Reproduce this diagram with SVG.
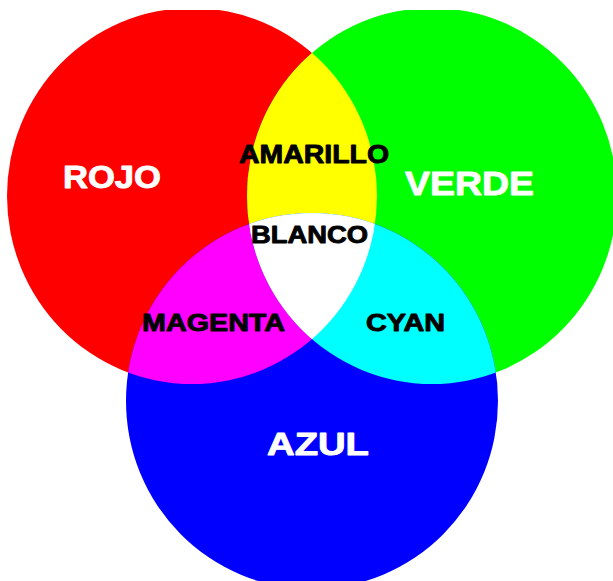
<svg xmlns="http://www.w3.org/2000/svg" xmlns:xlink="http://www.w3.org/1999/xlink" width="613" height="581" viewBox="0 0 613 581">
  <style>
    .lbl { font-family: "Liberation Sans", Arial, sans-serif; font-weight: bold; stroke-width: 0.9; stroke-linejoin: round; }
    .w { fill: #ffffff; stroke: #ffffff; }
    .k { fill: #000000; stroke: #000000; }
  </style>
  <defs>
    <ellipse id="eR" cx="192" cy="196" rx="185" ry="188"/>
    <ellipse id="eG" cx="432" cy="196" rx="185" ry="188"/>
    <ellipse id="eB" cx="312" cy="401" rx="186" ry="188"/>
    <clipPath id="cR"><use href="#eR" xlink:href="#eR"/></clipPath>
    <clipPath id="cG"><use href="#eG" xlink:href="#eG"/></clipPath>
    <clipPath id="frame"><rect x="0" y="10" width="613" height="571"/></clipPath>
  </defs>
  <rect x="0" y="0" width="613" height="581" fill="#ffffff"/>
  <g clip-path="url(#frame)">
    <g id="rojo"><use href="#eR" xlink:href="#eR" fill="#ff0000"/></g>
    <g id="verde"><use href="#eG" xlink:href="#eG" fill="#00ff00"/></g>
    <g id="azul"><use href="#eB" xlink:href="#eB" fill="#0000ff"/></g>
    <g id="amarillo" clip-path="url(#cR)"><use href="#eG" xlink:href="#eG" fill="#ffff00"/></g>
    <g id="magenta" clip-path="url(#cR)"><use href="#eB" xlink:href="#eB" fill="#ff00ff"/></g>
    <g id="cyan" clip-path="url(#cG)"><use href="#eB" xlink:href="#eB" fill="#00ffff"/></g>
    <g id="blanco" clip-path="url(#cR)"><g clip-path="url(#cG)"><use href="#eB" xlink:href="#eB" fill="#ffffff"/></g></g>
  </g>
  <g id="labels" class="lbl">
    <text class="w" x="63" y="188" font-size="31" textLength="98" lengthAdjust="spacingAndGlyphs">ROJO</text>
    <text class="w" x="405" y="195" font-size="34" textLength="129" lengthAdjust="spacingAndGlyphs">VERDE</text>
    <text class="w" x="267" y="455" font-size="31" textLength="102" lengthAdjust="spacingAndGlyphs">AZUL</text>
    <text class="k" x="239" y="163" font-size="25.5" textLength="150" lengthAdjust="spacingAndGlyphs">AMARILLO</text>
    <text class="k" x="251" y="243" font-size="24" textLength="117" lengthAdjust="spacingAndGlyphs">BLANCO</text>
    <text class="k" x="142" y="331" font-size="24" textLength="143" lengthAdjust="spacingAndGlyphs">MAGENTA</text>
    <text class="k" x="366" y="331" font-size="24" textLength="79" lengthAdjust="spacingAndGlyphs">CYAN</text>
  </g>
</svg>
